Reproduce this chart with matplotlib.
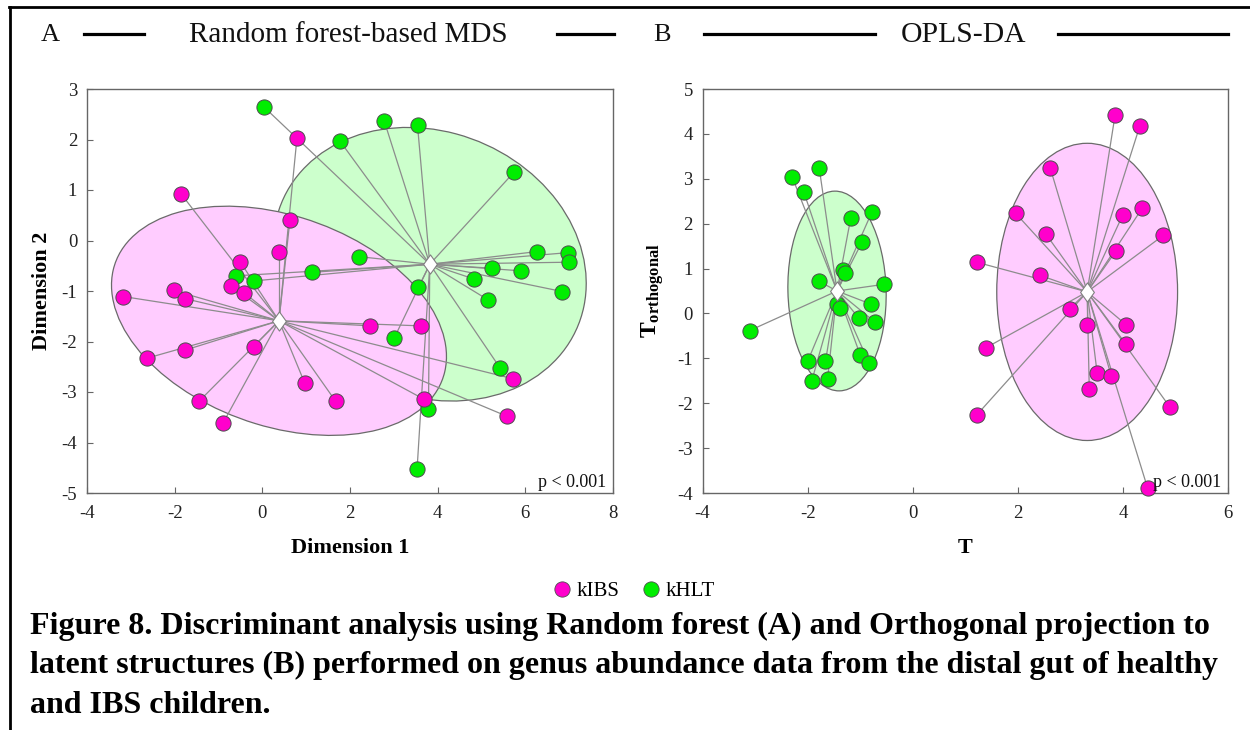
import numpy as np
import matplotlib
matplotlib.use("Agg")
import matplotlib.pyplot as plt
from matplotlib.patches import Ellipse
from matplotlib.lines import Line2D
from matplotlib.path import Path

plt.rcParams['font.family'] = ['Liberation Serif', 'DejaVu Serif']
plt.rcParams['mathtext.fontset'] = 'custom'
plt.rcParams['mathtext.rm'] = 'Liberation Serif'
plt.rcParams['mathtext.bf'] = 'Liberation Serif:bold'
plt.rcParams['mathtext.it'] = 'Liberation Serif:italic'

# ---------------- data ----------------
groups = ["kIBS", "kHLT"]

# Panel A: Random forest-based MDS
a_ibs_x = [0.79, -1.86, 0.63, 0.38, -0.50, -0.72, -0.42, -2.02, -1.77, -3.17, -1.76,
           -2.63, -0.20, -1.44, -0.90, 0.97, 1.67, 2.46, 3.61, 5.73, 3.68, 5.58]
a_ibs_y = [2.03, 0.93, 0.41, -0.22, -0.43, -0.90, -1.03, -0.99, -1.15, -1.11, -2.17,
           -2.33, -2.10, -3.18, -3.62, -2.83, -3.18, -1.69, -1.69, -2.74, -3.14, -3.48]
a_hlt_x = [0.03, 1.77, -0.61, -0.18, 1.14, 2.21, 2.78, 3.54, 5.75, 6.26, 6.98,
           6.99, 5.25, 5.89, 4.82, 5.14, 6.84, 3.56, 3.01, 5.42, 3.79, 3.53]
a_hlt_y = [2.65, 1.97, -0.70, -0.80, -0.63, -0.32, 2.37, 2.28, 1.36, -0.22, -0.24,
           -0.43, -0.55, -0.60, -0.76, -1.17, -1.01, -0.93, -1.93, -2.52, -3.34, -4.53]
a_centroids = {"kIBS": (0.38, -1.59), "kHLT": (3.82, -0.47)}
# ellipse shape matrices [[sxx, sxy], [sxy, syy]]
a_shapes = {"kIBS": [[14.6, -2.7], [-2.7, 5.15]], "kHLT": [[12.74, -1.35], [-1.35, 7.34]]}

# Panel B: OPLS-DA
b_ibs_x = [3.85, 4.32, 2.62, 1.96, 4.00, 4.37, 4.77, 2.54, 3.86, 1.22, 2.42,
           2.99, 3.32, 4.06, 4.06, 1.40, 3.51, 3.78, 3.36, 1.22, 4.89, 4.47]
b_ibs_y = [4.41, 4.17, 3.23, 2.23, 2.20, 2.35, 1.74, 1.76, 1.38, 1.14, 0.85,
           0.11, -0.26, -0.25, -0.69, -0.76, -1.33, -1.40, -1.68, -2.26, -2.08, -3.89]
b_hlt_x = [-2.29, -1.78, -2.07, -1.18, -0.78, -0.96, -1.33, -1.28, -1.79, -0.54, -1.44,
           -1.38, -0.80, -1.03, -0.72, -3.10, -2.00, -1.66, -1.00, -0.83, -1.92, -1.62]
b_hlt_y = [3.03, 3.25, 2.70, 2.12, 2.25, 1.60, 0.96, 0.89, 0.72, 0.65, 0.22,
           0.13, 0.21, -0.10, -0.19, -0.38, -1.07, -1.07, -0.92, -1.11, -1.50, -1.47]
b_centroids = {"kIBS": (3.32, 0.48), "kHLT": (-1.44, 0.50)}
b_shapes = {"kIBS": [[2.96, 0.0], [0.0, 10.96]], "kHLT": [[0.875, -0.085], [-0.085, 4.95]]}

a_xticks = [-4, -2, 0, 2, 4, 6, 8]
a_yticks = [-5, -4, -3, -2, -1, 0, 1, 2, 3]
b_xticks = [-4, -2, 0, 2, 4, 6]
b_yticks = [-4, -3, -2, -1, 0, 1, 2, 3, 4, 5]

caption = ["Figure 8. Discriminant analysis using Random forest (A) and Orthogonal projection to",
           "latent structures (B) performed on genus abundance data from the distal gut of healthy",
           "and IBS children."]

# ---------------- style ----------------
W, H = 1250, 730
point_col = {"kIBS": "#FF00CC", "kHLT": "#00EE00"}
fill_col = {"kIBS": "#FFCCFF", "kHLT": "#CCFFCC"}
diamond = Path([(0, 1), (0.72, 0), (0, -1), (-0.72, 0), (0, 1)],
               [Path.MOVETO, Path.LINETO, Path.LINETO, Path.LINETO, Path.CLOSEPOLY])

fig = plt.figure(figsize=(W / 100, H / 100), dpi=100)


def fx(px):
    return px / W


def fy(py):
    return 1 - py / H


def ellipse_from_shape(center, M, color):
    vals, vecs = np.linalg.eigh(np.array(M, dtype=float))
    i = int(np.argmax(vals))
    major = 2 * np.sqrt(vals[i])
    minor = 2 * np.sqrt(vals[1 - i])
    ang = np.degrees(np.arctan2(vecs[1, i], vecs[0, i]))
    return Ellipse(center, major, minor, angle=ang, facecolor=color,
                   edgecolor="#6a6a6a", lw=0.9, zorder=1)


def panel(ax, data, centroids, shapes, xlim, ylim, xticks, yticks):
    for g in ["kHLT", "kIBS"]:
        ax.add_patch(ellipse_from_shape(centroids[g], shapes[g], fill_col[g]))
    for g in ["kHLT", "kIBS"]:
        xs, ys = data[g]
        cx, cy = centroids[g]
        for x, y in zip(xs, ys):
            ax.plot([cx, x], [cy, y], color="#8c8c8c", lw=0.9, zorder=2)
    for g in ["kHLT", "kIBS"]:
        xs, ys = data[g]
        ax.scatter(xs, ys, s=120, c=point_col[g], edgecolors="#4d4d4d",
                   linewidths=0.7, zorder=3, clip_on=False)
    for g in ["kHLT", "kIBS"]:
        cx, cy = centroids[g]
        ax.scatter([cx], [cy], s=190, marker=diamond, c="white",
                   edgecolors="#808080", linewidths=0.8, zorder=4)
    ax.set_xlim(*xlim)
    ax.set_ylim(*ylim)
    ax.set_xticks(xticks)
    ax.set_yticks(yticks)
    ax.set_xticklabels([str(t) for t in xticks])
    ax.set_yticklabels([str(t) for t in yticks])
    for s in ["top", "right", "left", "bottom"]:
        ax.spines[s].set_color("#666666")
        ax.spines[s].set_linewidth(1.0)
    ax.tick_params(direction="in", length=4, width=0.8, color="#666666",
                   labelsize=13.5, labelcolor="#222222", top=False, right=False)
    ax.tick_params(axis="x", pad=9)
    ax.tick_params(axis="y", pad=7)
    ax.text(0.988, 0.014, "p < 0.001", transform=ax.transAxes, ha="right",
            va="baseline", fontsize=13, color="#111111", zorder=5)


axA = fig.add_axes([fx(87), fy(493), fx(613 - 87), (493 - 89) / H])
panel(axA, {"kIBS": (a_ibs_x, a_ibs_y), "kHLT": (a_hlt_x, a_hlt_y)},
      a_centroids, a_shapes, (-4, 8), (-5, 3), a_xticks, a_yticks)
axA.set_xlabel("Dimension 1", fontsize=16, fontweight="bold", labelpad=11)
axA.set_ylabel("Dimension 2", fontsize=16, fontweight="bold")
axA.yaxis.set_label_coords(-0.066, 0.5)

axB = fig.add_axes([fx(702.5), fy(493), fx(1228 - 702.5), (493 - 89) / H])
panel(axB, {"kIBS": (b_ibs_x, b_ibs_y), "kHLT": (b_hlt_x, b_hlt_y)},
      b_centroids, b_shapes, (-4, 6), (-4, 5), b_xticks, b_yticks)
axB.set_xlabel("T", fontsize=16, fontweight="bold", labelpad=11)
axB.set_ylabel(r"$\mathbf{T}_{\mathbf{orthogonal}}$", fontsize=17)
axB.yaxis.set_label_coords(-0.07, 0.5)

# ---------------- header ----------------
hy = fy(35)
renderer = fig.canvas.get_renderer()


def fit_text(x_px, y, s, target_w, weight="normal", ha="left", va="center", base=18):
    t = fig.text(fx(x_px), y, s, fontsize=base, fontweight=weight, ha=ha, va=va,
                 color="#111111")
    w = t.get_window_extent(renderer).width
    t.set_fontsize(base * target_w / w)
    return t


ta = fit_text(41, hy, "A", 19, base=20)
fit_text(189, hy, "Random forest-based MDS", 319, base=20)
fig.text(fx(653), hy, "B", fontsize=ta.get_fontsize(), ha="left", va="center",
         color="#111111")
fit_text(901, hy, "OPLS-DA", 125, base=20)
for x0, x1 in [(84, 144), (557, 614), (704, 875), (1058, 1228)]:
    fig.add_artist(Line2D([fx(x0), fx(x1)], [fy(34), fy(34)], color="black", lw=2.3))

# frame of the figure panel
fig.add_artist(Line2D([fx(9.5), fx(9.5)], [fy(7), 0], color="black", lw=2))
fig.add_artist(Line2D([fx(8.5), 1], [fy(7), fy(7)], color="black", lw=2))

# ---------------- legend ----------------
handles = [Line2D([], [], ls="none", marker="o", markersize=11,
                  markerfacecolor=point_col[g], markeredgecolor="#4d4d4d",
                  markeredgewidth=0.6, label=g) for g in groups]
fig.legend(handles=handles, loc="center", bbox_to_anchor=(fx(633), fy(591)),
           ncol=2, frameon=False, fontsize=15, handletextpad=0.2,
           columnspacing=1.0, handlelength=1.0)

# ---------------- caption ----------------
c0 = fig.text(fx(30), fy(634), caption[0], fontsize=20, fontweight="bold",
              ha="left", va="baseline", color="black")
w0 = c0.get_window_extent(renderer).width
cs = 20 * 1180 / w0
c0.set_fontsize(cs)
for line, base_py in zip(caption[1:], [673, 713]):
    fig.text(fx(30), fy(base_py), line, fontsize=cs, fontweight="bold",
             ha="left", va="baseline", color="black")

fig.savefig("out.png", dpi=100)
